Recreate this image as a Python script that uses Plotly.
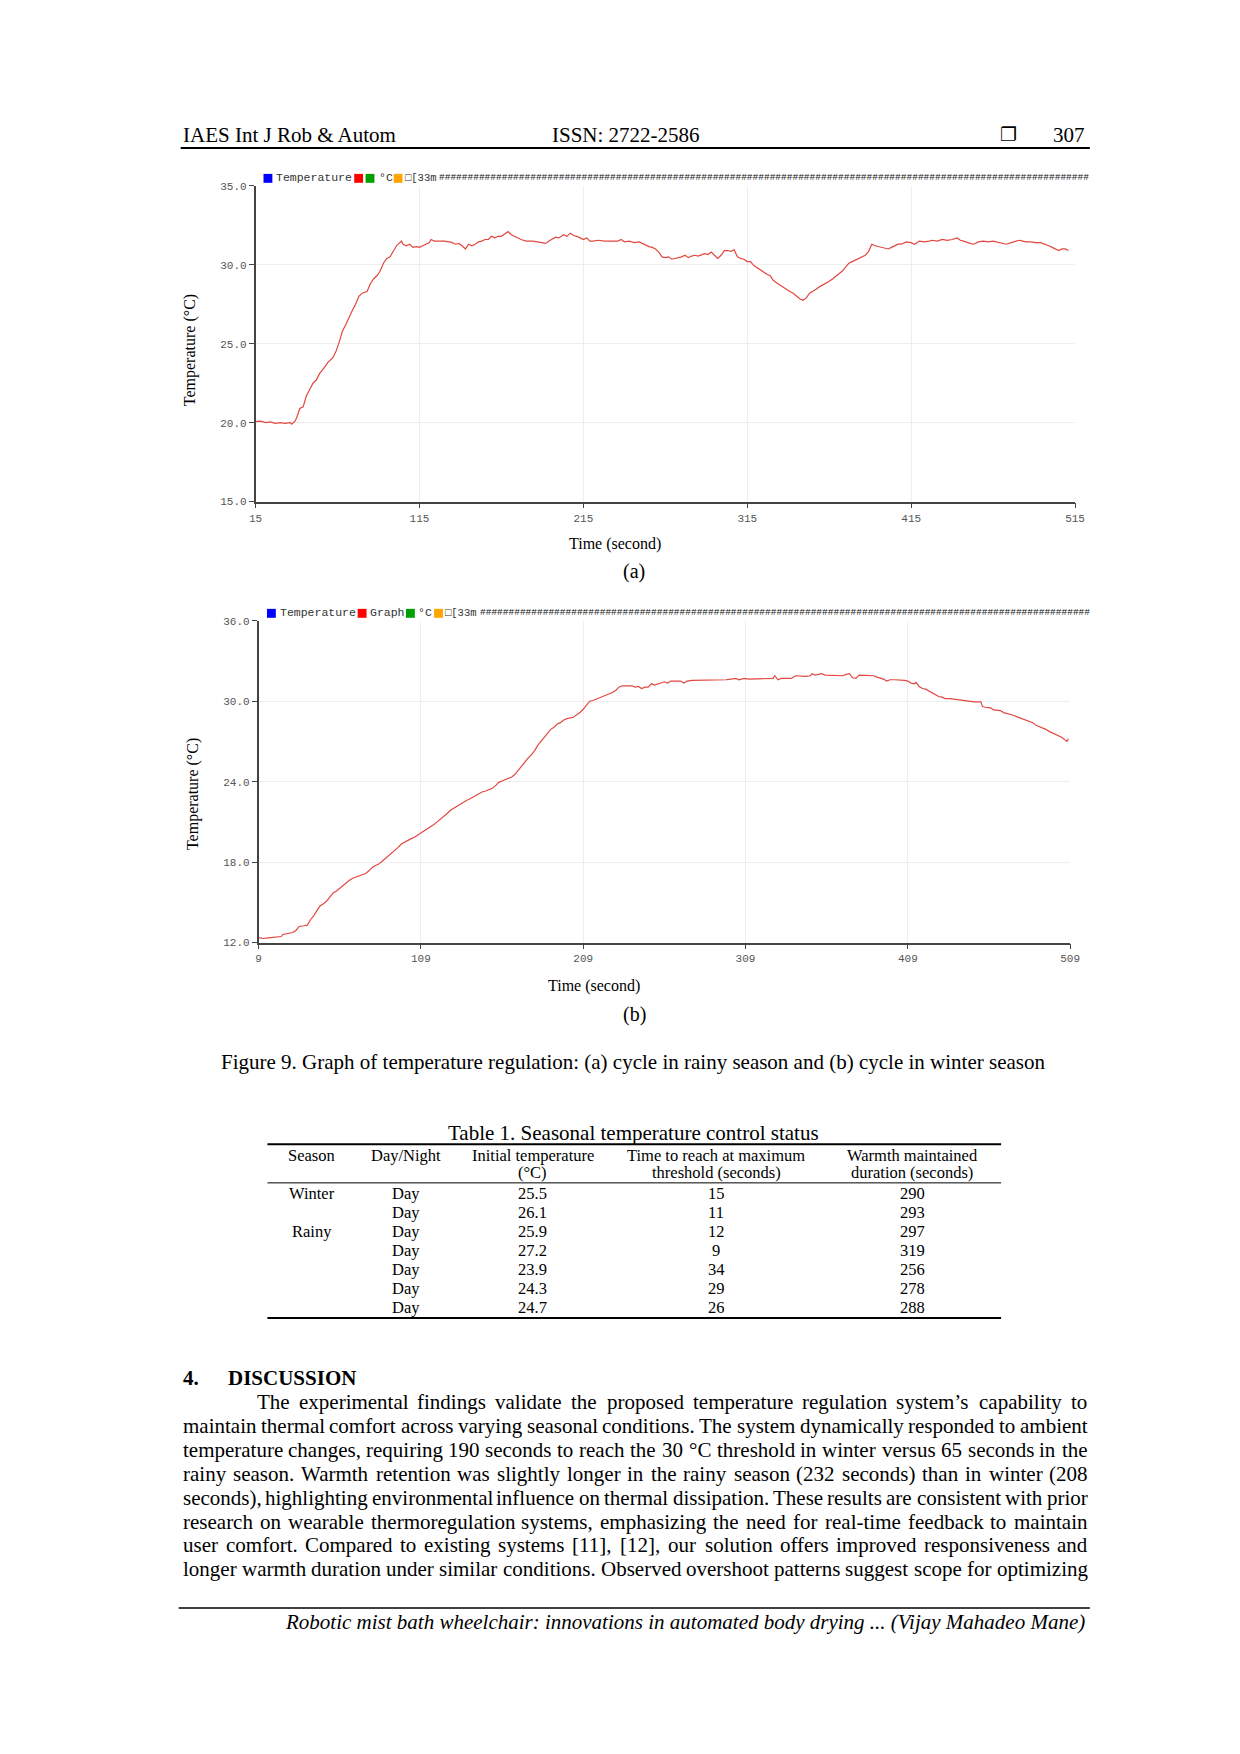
import plotly.graph_objects as go

# ---------------- data ----------------
time_a = [15, 18, 21, 24, 27, 30, 33, 36, 37, 39, 40, 42, 44, 46, 48, 50, 52, 54, 57, 59, 62, 64, 66, 68, 70, 72, 74, 76, 78, 80,
          83, 85, 87, 89, 91, 93, 95, 97, 99, 101, 103, 104, 105, 107, 109, 111, 113, 115, 117, 119, 121, 122, 124, 127, 130,
          133, 135, 137, 139, 141, 143, 145, 147, 149, 151, 153, 155, 157, 159, 161, 163, 165, 167, 169, 171, 173, 175, 177,
          180, 184, 187, 190, 192, 194, 196, 198, 200, 203, 205, 207, 209, 211, 213, 215, 217, 219, 221, 224, 228, 232, 236,
          238, 240, 243, 246, 249, 251, 253, 255, 257, 259, 261, 263, 265, 267, 269, 271, 273, 275, 277, 279, 281, 283, 285,
          287, 289, 291, 293, 295, 297, 299, 301, 303, 305, 307, 309, 311, 313, 315, 317, 319, 321, 323, 325, 327, 329, 331,
          333, 335, 337, 339, 341, 343, 345, 347, 349, 351, 353, 355, 357, 359, 361, 363, 365, 367, 369, 371, 373, 375, 377,
          379, 381, 383, 385, 387, 389, 391, 393, 395, 397, 399, 401, 403, 405, 407, 409, 412, 415, 417, 420, 423, 426, 428,
          431, 434, 437, 440, 443, 445, 447, 449, 451, 453, 456, 459, 462, 465, 467, 470, 473, 476, 479, 481, 483, 485, 488,
          491, 494, 497, 499, 501, 503, 505, 507, 509, 511]
temp_a = [20.06, 20.1, 20.0, 20.05, 19.95, 20.0, 19.95, 20.0, 19.9, 20.1, 20.3, 20.9, 21.0, 21.7, 22.1, 22.5, 22.7, 23.1, 23.5,
          23.8, 24.1, 24.5, 25.1, 25.8, 26.2, 26.7, 27.1, 27.5, 28.0, 28.2, 28.3, 28.8, 29.1, 29.3, 29.6, 30.1, 30.4, 30.5,
          30.9, 31.2, 31.4, 31.5, 31.3, 31.2, 31.3, 31.1, 31.15, 31.1, 31.2, 31.3, 31.4, 31.6, 31.5, 31.5, 31.5, 31.45, 31.4,
          31.3, 31.35, 31.2, 31.0, 31.3, 31.2, 31.3, 31.45, 31.5, 31.6, 31.6, 31.8, 31.7, 31.8, 31.8, 31.95, 32.1, 31.9, 31.8,
          31.65, 31.6, 31.5, 31.5, 31.45, 31.4, 31.35, 31.5, 31.6, 31.75, 31.7, 31.9, 31.8, 32.0, 31.85, 31.8, 31.7, 31.6,
          31.7, 31.5, 31.5, 31.55, 31.5, 31.5, 31.5, 31.6, 31.45, 31.5, 31.4, 31.45, 31.35, 31.2, 31.15, 31.1, 31.0, 30.8,
          30.5, 30.45, 30.5, 30.35, 30.4, 30.45, 30.5, 30.6, 30.45, 30.55, 30.6, 30.55, 30.65, 30.7, 30.65, 30.8, 30.6, 30.4,
          30.6, 30.9, 30.9, 30.85, 30.95, 30.5, 30.4, 30.35, 30.2, 30.2, 29.95, 29.8, 29.7, 29.5, 29.4, 29.3, 29.0, 28.85,
          28.7, 28.55, 28.45, 28.3, 28.2, 28.0, 27.85, 27.75, 27.9, 28.2, 28.3, 28.45, 28.6, 28.7, 28.85, 28.95, 29.1, 29.25,
          29.4, 29.6, 29.85, 30.1, 30.2, 30.3, 30.35, 30.5, 30.6, 30.85, 31.3, 31.2, 31.15, 31.1, 31.05, 31.0, 31.1, 31.2,
          31.3, 31.3, 31.45, 31.4, 31.3, 31.5, 31.45, 31.5, 31.55, 31.5, 31.6, 31.55, 31.6, 31.7, 31.55, 31.5, 31.4, 31.35,
          31.3, 31.45, 31.5, 31.45, 31.5, 31.45, 31.4, 31.3, 31.4, 31.5, 31.55, 31.5, 31.45, 31.45, 31.4, 31.4, 31.3, 31.2,
          31.1, 31.0, 30.9, 31.0, 31.0, 30.9]

time_b = [9, 12, 15, 18, 21, 23, 24, 27, 30, 32, 34, 37, 39, 41, 43, 45, 47, 49, 51, 53, 55, 57, 59, 61, 63, 65, 67, 69, 71, 73,
          75, 77, 79, 81, 83, 85, 87, 89, 91, 93, 95, 97, 99, 101, 103, 105, 107, 109, 111, 113, 115, 117, 119, 121, 123, 125,
          127, 129, 131, 133, 135, 137, 139, 141, 143, 145, 147, 149, 151, 153, 155, 157, 159, 161, 163, 165, 167, 169, 171,
          173, 175, 177, 179, 181, 183, 185, 187, 189, 191, 193, 195, 197, 199, 201, 203, 205, 207, 209, 211, 213, 215, 217,
          219, 221, 223, 225, 227, 229, 231, 233, 236, 239, 241, 243, 245, 247, 249, 251, 253, 255, 257, 259, 261, 263, 266,
          269, 271, 273, 276, 279, 282, 285, 288, 291, 294, 297, 300, 303, 305, 308, 311, 314, 317, 320, 326, 327, 329, 331,
          334, 337, 340, 343, 346, 349, 350, 352, 354, 356, 358, 360, 363, 366, 369, 371, 373, 375, 377, 379, 382, 385, 388,
          390, 392, 394, 396, 398, 401, 404, 407, 409, 411, 413, 414, 416, 418, 420, 422, 424, 426, 428, 430, 432, 435, 438,
          441, 444, 447, 450, 454, 455, 457, 460, 462, 464, 466, 468, 470, 472, 474, 476, 478, 480, 482, 484, 486, 488, 490,
          492, 494, 496, 498, 500, 502, 504, 506, 507, 508]
temp_b = [12.37, 12.3, 12.35, 12.4, 12.45, 12.45, 12.6, 12.7, 12.75, 12.9, 13.2, 13.25, 13.3, 13.7, 14.0, 14.4, 14.75, 14.9,
          15.1, 15.4, 15.7, 15.85, 16.05, 16.3, 16.5, 16.65, 16.8, 16.9, 16.95, 17.05, 17.15, 17.35, 17.6, 17.75, 17.85, 18.05,
          18.25, 18.45, 18.7, 18.9, 19.1, 19.35, 19.5, 19.65, 19.75, 19.85, 20.0, 20.15, 20.3, 20.5, 20.65, 20.8, 21.0, 21.2,
          21.35, 21.6, 21.85, 22.0, 22.15, 22.35, 22.5, 22.6, 22.7, 22.85, 23.0, 23.15, 23.25, 23.3, 23.4, 23.5, 23.7, 23.95,
          24.05, 24.15, 24.2, 24.35, 24.55, 24.85, 25.2, 25.5, 25.75, 26.0, 26.3, 26.7, 27.0, 27.3, 27.6, 27.9, 28.05, 28.3,
          28.4, 28.6, 28.7, 28.75, 28.8, 29.0, 29.15, 29.4, 29.7, 30.0, 30.05, 30.15, 30.2, 30.35, 30.45, 30.55, 30.65, 30.8,
          31.05, 31.15, 31.15, 31.15, 31.05, 31.1, 30.95, 31.05, 31.05, 31.3, 31.2, 31.3, 31.4, 31.45, 31.35, 31.5, 31.5,
          31.5, 31.35, 31.5, 31.55, 31.55, 31.6, 31.55, 31.6, 31.6, 31.6, 31.6, 31.65, 31.7, 31.6, 31.7, 31.65, 31.65, 31.7,
          31.7, 31.7, 31.9, 31.6, 31.7, 31.7, 31.7, 31.9, 31.85, 31.85, 31.9, 32.05, 31.95, 32.0, 32.05, 31.95, 31.95, 31.95,
          31.95, 31.9, 32.0, 32.05, 31.75, 31.7, 31.95, 31.95, 31.95, 31.9, 31.8, 31.75, 31.65, 31.5, 31.6, 31.6, 31.6,
          31.55, 31.5, 31.35, 31.3, 31.4, 31.1, 30.95, 30.9, 30.75, 30.6, 30.5, 30.35, 30.3, 30.2, 30.2, 30.15, 30.1, 30.0,
          29.95, 29.95, 29.95, 29.6, 29.55, 29.5, 29.35, 29.3, 29.3, 29.15, 29.1, 29.0, 28.95, 28.85, 28.75, 28.7, 28.6,
          28.5, 28.4, 28.2, 28.1, 28.05, 27.9, 27.75, 27.65, 27.55, 27.4, 27.3, 27.1, 27.0, 27.2]

xticks_a = [15, 115, 215, 315, 415, 515]
yticks_a = [15, 20, 25, 30, 35]
xticks_b = [9, 109, 209, 309, 409, 509]
yticks_b = [12, 18, 24, 30, 36]

tbl_header1 = ["Season", "Day/Night", "Initial temperature", "Time to reach at maximum", "Warmth maintained"]
tbl_header2 = ["", "", "(°C)", "threshold (seconds)", "duration (seconds)"]
tbl_season = ["Winter", "", "Rainy", "", "", "", ""]
tbl_daynight = ["Day", "Day", "Day", "Day", "Day", "Day", "Day"]
tbl_initial = [25.5, 26.1, 25.9, 27.2, 23.9, 24.3, 24.7]
tbl_time_max = [15, 11, 12, 9, 34, 29, 26]
tbl_warmth = [290, 293, 297, 319, 256, 278, 288]

para_lines = [
    "The experimental findings validate the proposed temperature regulation system’s capability to",
    "maintain thermal comfort across varying seasonal conditions. The system dynamically responded to ambient",
    "temperature changes, requiring 190 seconds to reach the 30 °C threshold in winter versus 65 seconds in the",
    "rainy season. Warmth retention was slightly longer in the rainy season (232 seconds) than in winter (208",
    "seconds), highlighting environmental influence on thermal dissipation. These results are consistent with prior",
    "research on wearable thermoregulation systems, emphasizing the need for real-time feedback to maintain",
    "user comfort. Compared to existing systems [11], [12], our solution offers improved responsiveness and",
    "longer warmth duration under similar conditions. Observed overshoot patterns suggest scope for optimizing",
]

# ---------------- geometry helpers ----------------
OFF = 8  # default page margin around the figure
W, H = 1240 - 2 * OFF, 1754 - 2 * OFF


def px(x):
    return (x - OFF) / W


def py(y):
    return 1 - (y - OFF) / H


SERIF = "Liberation Serif"
MONO = "Liberation Mono"
annotations = []
shapes = []


def text(x, y, s, size=21, anchor="center", family=SERIF, color="black", angle=0):
    annotations.append(dict(x=px(x), y=py(y), xref="paper", yref="paper", text=s, showarrow=False,
                            xanchor=anchor, yanchor="middle", textangle=angle, borderpad=0,
                            font=dict(family=family, size=size, color=color)))


def hline(x0, x1, y, width=1.0, color="black"):
    shapes.append(dict(type="line", xref="paper", yref="paper", x0=px(x0), x1=px(x1), y0=py(y), y1=py(y),
                       line=dict(color=color, width=width)))


def square(xc, yc, color, size=9):
    shapes.append(dict(type="rect", xref="paper", yref="paper", x0=px(xc - size / 2), x1=px(xc + size / 2),
                       y0=py(yc + size / 2), y1=py(yc - size / 2), fillcolor=color, line=dict(width=0)))


# Times-Roman widths (1/1000 em)
AFM = {' ': 250, 'a': 444, 'b': 500, 'c': 444, 'd': 500, 'e': 444, 'f': 333, 'g': 500, 'h': 500, 'i': 278, 'j': 278,
       'k': 500, 'l': 278, 'm': 778, 'n': 500, 'o': 500, 'p': 500, 'q': 500, 'r': 333, 's': 389, 't': 278, 'u': 500,
       'v': 500, 'w': 722, 'x': 500, 'y': 500, 'z': 444, 'A': 722, 'B': 667, 'C': 667, 'D': 722, 'E': 611, 'F': 556,
       'G': 722, 'H': 722, 'I': 333, 'J': 389, 'K': 722, 'L': 611, 'M': 889, 'N': 722, 'O': 722, 'P': 556, 'Q': 722,
       'R': 667, 'S': 556, 'T': 611, 'U': 722, 'V': 722, 'W': 944, 'X': 722, 'Y': 722, 'Z': 611, ',': 250, '.': 250,
       '(': 333, ')': 333, '[': 333, ']': 333, '-': 333, '’': 333, '°': 400, ':': 278}


def tw(s, size):
    return sum(AFM.get(ch, 500) for ch in s) / 1000.0 * size


def justify(line, x0, x1, y, size):
    words = line.split(" ")
    widths = [tw(w, size) for w in words]
    gap = (x1 - x0 - sum(widths)) / (len(words) - 1)
    x = x0
    for w, wd in zip(words, widths):
        text(x, y, w, size=size, anchor="left")
        x += wd + gap


# ---------------- page text ----------------
text(177, 131, "IAES Int J Rob &amp; Autom", anchor="left")
text(552, 131, "ISSN: 2722-2586", anchor="left")
text(1015, 130, "❐", size=19, family="DejaVu Sans")
text(1094, 131, "307", anchor="right")
hline(176, 1098, 144, width=2)

# chart labels
text(185, 348, "Temperature (°C)", size=16, angle=-90)
text(616, 543, "Time (second)", size=16)
text(636, 570, "(a)", size=20)
text(188, 795, "Temperature (°C)", size=16, angle=-90)
text(595, 988, "Time (second)", size=16)
text(636, 1016, "(b)", size=20)

text(635, 1064, "Figure 9. Graph of temperature regulation: (a) cycle in rainy season and (b) cycle in winter season")

# legends (serial plotter style)
LEG = "#333"
HASH_SIZE = 9.5
HASH_PITCH = 0.6 * HASH_SIZE


def hashes(x0, x1):
    return "#" * int((x1 - x0) / HASH_PITCH)


square(264.5, 174.5, "#0000ff")
text(272, 174, "Temperature", size=11.5, anchor="left", family=MONO, color=LEG)
square(356.5, 174.5, "#ff0000")
square(368, 174.5, "#00a000")
text(376, 174, "°C", size=11.5, anchor="left", family=MONO, color=LEG)
square(396.5, 174.5, "#ffa500")
text(402, 174, "□[33m", size=10.5, anchor="left", family=MONO, color=LEG)
text(437, 174, hashes(437, 1092), size=HASH_SIZE, anchor="left", family=MONO, color="#111")

square(268, 612.5, "#0000ff")
text(276, 612, "Temperature", size=11.5, anchor="left", family=MONO, color=LEG)
square(360, 612.5, "#ff0000")
text(367, 612, "Graph", size=11.5, anchor="left", family=MONO, color=LEG)
square(409, 612.5, "#00a000")
text(416, 612, "°C", size=11.5, anchor="left", family=MONO, color=LEG)
square(437.5, 612.5, "#ffa500")
text(443, 612, "□[33m", size=10.5, anchor="left", family=MONO, color=LEG)
text(479, 612, hashes(479, 1093), size=HASH_SIZE, anchor="left", family=MONO, color="#111")

# ---------------- table ----------------
text(635, 1136, "Table 1. Seasonal temperature control status")
hline(264, 1008, 1147, width=2)
hline(264, 1008, 1186, width=1)
hline(264, 1008, 1322, width=2)
col_x = [309, 404, 533, 719, 918]
TS = 16.5
for cx, h1, h2 in zip(col_x, tbl_header1, tbl_header2):
    text(cx, 1158, h1, size=TS)
    if h2:
        text(cx, 1176, h2, size=TS)
row_y = [1197, 1216, 1235, 1254, 1273, 1292, 1311]
for i, ry in enumerate(row_y):
    vals = [tbl_season[i], tbl_daynight[i], f"{tbl_initial[i]:.1f}", str(tbl_time_max[i]), str(tbl_warmth[i])]
    for cx, v in zip(col_x, vals):
        if v:
            text(cx, ry, v, size=TS)

# ---------------- discussion ----------------
text(177, 1382, "<b>4.</b>", anchor="left")
text(223, 1382, "<b>DISCUSSION</b>", anchor="left")
for i, line in enumerate(para_lines):
    x0 = 252 if i == 0 else 177
    justify(line, x0, 1094, 1407 + 24 * i, 21)

hline(174, 1098, 1614, width=1.5)
text(1094, 1628, "<i>Robotic mist bath wheelchair: innovations in automated body drying ... (Vijay Mahadeo Mane)</i>",
     anchor="right")

# ---------------- charts ----------------
LINE_RED = "#e2473f"
fig = go.Figure()
fig.add_trace(go.Scatter(x=time_a, y=temp_a, mode="lines", line=dict(color=LINE_RED, width=1.2),
                         xaxis="x", yaxis="y", showlegend=False, hoverinfo="skip"))
fig.add_trace(go.Scatter(x=time_b, y=temp_b, mode="lines", line=dict(color=LINE_RED, width=1.2),
                         xaxis="x2", yaxis="y2", showlegend=False, hoverinfo="skip"))

tickfont = dict(family=MONO, size=11, color="#555")
axis_common = dict(showline=True, linecolor="#444", linewidth=1.5, ticks="outside", ticklen=5, tickcolor="#444",
                   showgrid=True, gridcolor="#eeeeee", gridwidth=1, zeroline=False, tickfont=tickfont,
                   fixedrange=True)

fig.update_layout(
    width=W, height=H, margin=dict(l=0, r=0, t=0, b=0), paper_bgcolor="white", plot_bgcolor="white",
    showlegend=False,
    xaxis=dict(domain=[px(252), px(1083)], range=[15, 515], tickvals=xticks_a, ticktext=[str(v) for v in xticks_a],
               anchor="y", **axis_common),
    yaxis=dict(domain=[py(500), py(182)], range=[15, 35], tickvals=yticks_a,
               ticktext=[f"{v:.1f}" for v in yticks_a], anchor="x", **axis_common),
    xaxis2=dict(domain=[px(255), px(1078)], range=[9, 509], tickvals=xticks_b, ticktext=[str(v) for v in xticks_b],
                anchor="y2", **axis_common),
    yaxis2=dict(domain=[py(944), py(620)], range=[12, 36], tickvals=yticks_b,
                ticktext=[f"{v:.1f}" for v in yticks_b], anchor="x2", **axis_common),
    annotations=annotations, shapes=shapes,
)

fig.write_html("out.html")
